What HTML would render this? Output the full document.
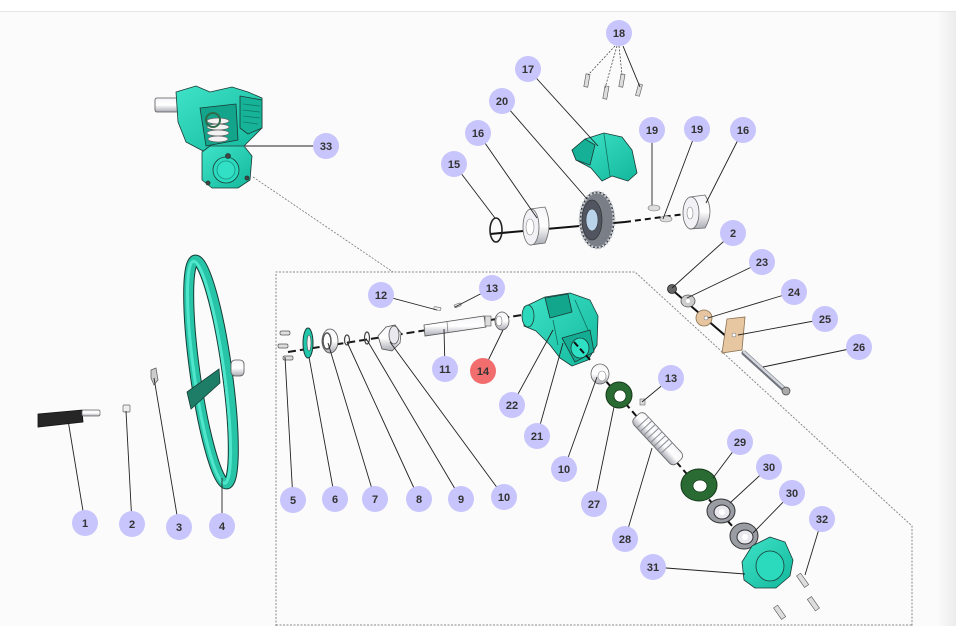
<!DOCTYPE html>
<html><head><meta charset="utf-8"><style>
html,body{margin:0;padding:0;width:956px;height:626px;overflow:hidden;background:#fbfbfb;}
svg{display:block}
text{font-family:"Liberation Sans",Arial,sans-serif;font-weight:bold;font-size:11px;fill:#333;}
</style></head><body>
<svg width="956" height="626" viewBox="0 0 956 626" xmlns="http://www.w3.org/2000/svg">
<defs>
<linearGradient id="rs" x1="0" x2="1"><stop offset="0" stop-color="#fafafa"/><stop offset="1" stop-color="#ececec"/></linearGradient>
<linearGradient id="cyl" x1="0" y1="0" x2="0" y2="1"><stop offset="0" stop-color="#f4f4f8"/><stop offset="0.5" stop-color="#ffffff"/><stop offset="1" stop-color="#a9aab4"/></linearGradient>
<linearGradient id="tl" x1="0" y1="0" x2="1" y2="1"><stop offset="0" stop-color="#3fe3c8"/><stop offset="1" stop-color="#13b89c"/></linearGradient>
</defs>
<rect x="0" y="0" width="956" height="11" fill="#ffffff"/>
<line x1="0" y1="11.5" x2="956" y2="11.5" stroke="#e6e6e6" stroke-width="1"/>
<rect x="938" y="12" width="18" height="614" fill="url(#rs)"/>

<!-- dashed region -->
<polyline points="276,626 276,272 635,272 912,526 912,626" fill="none" stroke="#888" stroke-width="1" stroke-dasharray="2 1.5"/>
<line x1="276" y1="625" x2="912" y2="625" stroke="#888" stroke-width="1" stroke-dasharray="2 1.5"/>
<line x1="253" y1="177" x2="393" y2="272" stroke="#777" stroke-width="0.8" stroke-dasharray="2 1.5"/>

<!-- ===== Part 33 housing ===== -->
<g stroke="#1c3a35" stroke-width="0.8" stroke-linejoin="round">
<rect x="155" y="98" width="24" height="14" rx="2" fill="url(#cyl)" stroke="#555"/>
<polygon points="176,92 196,86 210,92 232,87 248,92 262,98 262,128 252,138 240,150 205,152 186,142 178,122" fill="url(#tl)"/>
<polygon points="240,96 262,100 262,128 248,134 240,128" fill="#17b399"/>
<line x1="243" y1="104" x2="260" y2="106" stroke="#0d7a68"/>
<line x1="243" y1="110" x2="260" y2="112" stroke="#0d7a68"/>
<line x1="243" y1="116" x2="260" y2="118" stroke="#0d7a68"/>
<line x1="243" y1="122" x2="258" y2="124" stroke="#0d7a68"/>
<polygon points="200,108 236,104 238,140 206,146" fill="#12a58c"/>
<g fill="#f2f2f2" stroke="#666" stroke-width="0.7">
<ellipse cx="218" cy="121" rx="11" ry="3"/>
<ellipse cx="218" cy="127" rx="11" ry="3"/>
<ellipse cx="218" cy="133" rx="11" ry="3"/>
<ellipse cx="218" cy="139" rx="10" ry="3"/>
</g>
<circle cx="213" cy="120" r="7" fill="none" stroke="#2f6b4a" stroke-width="2"/>
<polygon points="202,152 210,146 244,146 252,156 250,180 238,188 212,188 202,180" fill="url(#tl)"/>
<circle cx="226" cy="170" r="13" fill="#2adbc0"/>
<circle cx="226" cy="170" r="9" fill="#32e0c5" stroke="#1a8f7b"/>
<circle cx="228" cy="156" r="2.5" fill="#444"/>
<circle cx="208" cy="183" r="2" fill="#444"/>
<circle cx="247" cy="178" r="2" fill="#444"/>
</g>

<!-- ===== Steering wheel 4 ===== -->
<g transform="rotate(-8 211 372)">
<ellipse cx="211" cy="372" rx="16" ry="113" fill="none" stroke="#173b34" stroke-width="11"/>
<ellipse cx="211" cy="372" rx="16" ry="113" fill="none" stroke="#27c4a8" stroke-width="9"/>
<ellipse cx="209" cy="372" rx="15" ry="112" fill="none" stroke="#4fe6cc" stroke-width="3"/>
</g>
<rect x="231" y="360" width="13" height="16" rx="4" fill="url(#cyl)" stroke="#555" stroke-width="0.8"/>
<polygon points="187,392 219,369 220,383 191,409" fill="#1d7d67" stroke="#163d35" stroke-width="0.8"/>

<!-- Part 1 handle -->
<polygon points="38,414 82,410 83,422 38,427" fill="#262626" stroke="#111" stroke-width="0.8"/>
<rect x="82" y="410" width="18" height="6" rx="1.5" fill="url(#cyl)" stroke="#666" stroke-width="0.7"/>
<!-- Part 2 -->
<rect x="123" y="405" width="7" height="7" rx="1" fill="#eee" stroke="#666" stroke-width="0.7"/>
<!-- Part 3 -->
<path d="M151,370 L156,368 L158,380 L154,385 L151,378 Z" fill="#ccc" stroke="#555" stroke-width="0.7"/>

<!-- ===== Left axis assembly ===== -->
<line x1="288" y1="352" x2="528" y2="314" stroke="#1a1a1a" stroke-width="2" stroke-dasharray="8 4"/>
<g stroke="#555" stroke-width="0.7">
<rect x="280" y="331" width="10" height="4" rx="1.5" fill="#ddd"/>
<rect x="278" y="344" width="10" height="4" rx="1.5" fill="#ddd"/>
<rect x="283" y="356" width="10" height="4" rx="1.5" fill="#ddd"/>
</g>
<ellipse cx="308" cy="343" rx="5" ry="15" fill="#1fc7ab" stroke="#1a3a35" stroke-width="1"/>
<ellipse cx="309" cy="343" rx="2" ry="8" fill="#f4f4f4" stroke="#444" stroke-width="0.6"/>
<ellipse cx="330" cy="341" rx="8" ry="12" fill="url(#cyl)" stroke="#555" stroke-width="0.8"/>
<ellipse cx="327" cy="341" rx="4" ry="8" fill="#fff" stroke="#555" stroke-width="1.5"/>
<ellipse cx="347" cy="340" rx="2.5" ry="5" fill="none" stroke="#444" stroke-width="1.2"/>
<ellipse cx="367" cy="338" rx="2.5" ry="6" fill="none" stroke="#444" stroke-width="1.2"/>
<path d="M378,336 L386,327 L395,325 L401,333 L400,343 L392,351 L382,349 Z" fill="url(#cyl)" stroke="#555" stroke-width="0.8"/>
<ellipse cx="394" cy="335" rx="5" ry="9" fill="#e8e8ee" stroke="#555" stroke-width="0.8"/>
<!-- shaft 11 -->
<polygon points="424,325 484,316 486,327 425,336" fill="url(#cyl)" stroke="#555" stroke-width="0.8"/>
<line x1="447" y1="322" x2="448" y2="333" stroke="#777" stroke-width="0.7"/>
<rect x="485" y="316" width="6" height="10" fill="#ddd" stroke="#555" stroke-width="0.6"/>
<!-- 12 13 pins -->
<rect x="434" y="307" width="7" height="3" rx="1" fill="#eee" stroke="#666" stroke-width="0.6" transform="rotate(10 437 308)"/>
<rect x="454" y="304" width="7" height="3" rx="1" fill="#eee" stroke="#666" stroke-width="0.6" transform="rotate(-20 457 305)"/>
<!-- 14 -->
<ellipse cx="502" cy="321" rx="7" ry="9" fill="url(#cyl)" stroke="#555" stroke-width="0.8"/>
<ellipse cx="499" cy="321" rx="3" ry="5" fill="#fff" stroke="#777" stroke-width="0.6"/>

<!-- ===== Center housing 21/22 ===== -->
<g stroke="#1c3a35" stroke-width="0.8" stroke-linejoin="round">
<polygon points="524,307 545,297 570,293 590,300 598,316 597,345 588,360 572,366 560,358 550,345 536,331 524,326" fill="url(#tl)"/>
<ellipse cx="528" cy="316" rx="6" ry="11" fill="#2bd8bc"/>
<polygon points="545,298 568,294 572,312 550,318" fill="#12a68d"/>
<polygon points="562,338 590,330 594,352 575,362" fill="#14ad93"/>
<ellipse cx="580" cy="348" rx="9" ry="10" fill="#2ee0c4"/>
<line x1="553" y1="320" x2="558" y2="345" stroke="#0f6e5f"/>
<line x1="575" y1="300" x2="588" y2="330" stroke="#0f6e5f"/>
</g>
<line x1="574" y1="342" x2="592" y2="362" stroke="#111" stroke-width="2" stroke-dasharray="6 3"/>

<!-- ===== Upper assembly ===== -->
<line x1="490" y1="234" x2="625" y2="222" stroke="#111" stroke-width="2"/>
<line x1="625" y1="222" x2="700" y2="212" stroke="#111" stroke-width="2" stroke-dasharray="6 4"/>
<ellipse cx="496" cy="230" rx="6" ry="12" fill="none" stroke="#222" stroke-width="1.6"/>
<path d="M530,209 L545,207 Q553,225 545,243 L530,245 Z" fill="url(#cyl)" stroke="#666" stroke-width="0.8"/>
<ellipse cx="531" cy="227" rx="8" ry="18" fill="#f2f2f6" stroke="#666" stroke-width="0.8"/>
<ellipse cx="530" cy="227" rx="4" ry="8" fill="#fff" stroke="#888" stroke-width="0.6"/>
<ellipse cx="597" cy="220" rx="17" ry="28" fill="#7a7e86" stroke="#333" stroke-width="1"/>
<ellipse cx="597" cy="220" rx="17" ry="28" fill="none" stroke="#c8ccd4" stroke-width="3" stroke-dasharray="2 2"/>
<ellipse cx="592" cy="220" rx="10" ry="20" fill="#505560" stroke="#333" stroke-width="0.7"/>
<ellipse cx="592" cy="220" rx="6" ry="11" fill="#b9d3ea" stroke="#333" stroke-width="0.6"/>
<g stroke="#1c3a35" stroke-width="0.8" stroke-linejoin="round">
<polygon points="572,150 585,139 604,133 622,137 632,150 637,173 628,181 612,176 602,181 591,168 576,160" fill="url(#tl)"/>
<polygon points="572,150 585,139 595,145 590,165 576,160" fill="#15b096"/>
<line x1="604" y1="134" x2="610" y2="176" stroke="#0f6e5f"/>
</g>
<ellipse cx="654" cy="208" rx="6" ry="3" fill="#ddd" stroke="#777" stroke-width="0.6"/>
<ellipse cx="666" cy="219" rx="6" ry="3" fill="#ddd" stroke="#777" stroke-width="0.6"/>
<path d="M690,197 L705,195 Q715,211 705,228 L690,229 Z" fill="url(#cyl)" stroke="#666" stroke-width="0.8"/>
<ellipse cx="691" cy="213" rx="8" ry="16" fill="#f2f2f6" stroke="#666" stroke-width="0.8"/>
<ellipse cx="690" cy="213" rx="3" ry="6" fill="#fff" stroke="#888" stroke-width="0.6"/>
<!-- screws 18 -->
<g fill="#ddd" stroke="#555" stroke-width="0.6">
<rect x="585" y="74" width="4" height="13" transform="rotate(10 587 80)"/>
<rect x="604" y="86" width="4" height="13" transform="rotate(10 606 92)"/>
<rect x="620" y="74" width="4" height="13" transform="rotate(10 622 80)"/>
<rect x="637" y="84" width="4" height="12" transform="rotate(15 639 90)"/>
</g>

<!-- ===== Right small chain ===== -->
<line x1="670" y1="288" x2="742" y2="350" stroke="#111" stroke-width="2"/>
<circle cx="672" cy="289" r="4.5" fill="#666" stroke="#222" stroke-width="0.8"/>
<ellipse cx="688" cy="301" rx="7" ry="6" fill="#ccc" stroke="#555" stroke-width="0.8"/>
<circle cx="688" cy="301" r="2" fill="#fff"/>
<ellipse cx="704" cy="318" rx="8" ry="8" fill="#e6c6a0" stroke="#8a7050" stroke-width="0.8"/>
<circle cx="706" cy="318" r="2" fill="#fff" stroke="#666" stroke-width="0.5"/>
<polygon points="727,319 745,317 742,350 722,353" fill="#e6c7a2" stroke="#8a7050" stroke-width="0.8"/>
<circle cx="734" cy="335" r="2" fill="#fff" stroke="#666" stroke-width="0.5"/>
<line x1="744" y1="353" x2="786" y2="391" stroke="#6e727a" stroke-width="5" stroke-linecap="round"/>
<line x1="744" y1="352" x2="786" y2="390" stroke="#d4d6de" stroke-width="2.5" stroke-linecap="round"/>
<circle cx="786" cy="391" r="4" fill="#aaa" stroke="#444" stroke-width="0.7"/>

<!-- ===== Lower chain ===== -->
<line x1="598" y1="372" x2="760" y2="558" stroke="#111" stroke-width="2" stroke-dasharray="9 4"/>
<ellipse cx="600" cy="374" rx="9" ry="10" fill="url(#cyl)" stroke="#666" stroke-width="0.8"/>
<ellipse cx="602" cy="376" rx="4" ry="5" fill="#fff" stroke="#888" stroke-width="0.6"/>
<ellipse cx="619" cy="395" rx="13" ry="13" fill="#2a6b34" stroke="#143818" stroke-width="1"/>
<ellipse cx="620" cy="396" rx="6" ry="6" fill="#fff" stroke="#143818" stroke-width="0.8"/>
<rect x="640" y="399" width="5" height="6" fill="#ddd" stroke="#666" stroke-width="0.6"/>
<g transform="rotate(47 657 438)">
<rect x="627" y="430" width="62" height="16" rx="5" fill="url(#cyl)" stroke="#666" stroke-width="0.8"/>
<g stroke="#8a8c94" stroke-width="1">
<line x1="636" y1="430" x2="636" y2="446"/><line x1="641" y1="430" x2="641" y2="446"/>
<line x1="646" y1="430" x2="646" y2="446"/><line x1="651" y1="430" x2="651" y2="446"/>
<line x1="656" y1="430" x2="656" y2="446"/><line x1="661" y1="430" x2="661" y2="446"/>
<line x1="666" y1="430" x2="666" y2="446"/><line x1="671" y1="430" x2="671" y2="446"/>
</g>
</g>
<ellipse cx="699" cy="485" rx="18" ry="16" fill="#2a6b34" stroke="#143818" stroke-width="1"/>
<ellipse cx="700" cy="486" rx="7" ry="6" fill="#fff" stroke="#143818" stroke-width="0.8"/>
<ellipse cx="721" cy="511" rx="14" ry="12" fill="#9a9ca4" stroke="#333" stroke-width="1"/>
<ellipse cx="722" cy="512" rx="8" ry="7" fill="#e8e8ee" stroke="#333" stroke-width="1"/>
<ellipse cx="722" cy="512" rx="3" ry="3" fill="#fff"/>
<ellipse cx="744" cy="536" rx="14" ry="13" fill="#9a9ca4" stroke="#333" stroke-width="1"/>
<ellipse cx="745" cy="537" rx="8" ry="7" fill="#e8e8ee" stroke="#333" stroke-width="1"/>
<ellipse cx="745" cy="537" rx="3" ry="3" fill="#fff"/>
<g stroke="#1c3a35" stroke-width="0.8" stroke-linejoin="round">
<polygon points="742,562 752,546 770,537 785,542 793,560 790,576 776,588 755,588 744,580" fill="url(#tl)"/>
<ellipse cx="770" cy="566" rx="14" ry="15" fill="#2bd9bd"/>
</g>
<g fill="#ddd" stroke="#555" stroke-width="0.6">
<rect x="800" y="573" width="5" height="14" transform="rotate(-35 803 580)"/>
<rect x="811" y="597" width="5" height="14" transform="rotate(-35 813 604)"/>
<rect x="777" y="605" width="5" height="14" transform="rotate(-35 780 612)"/>
</g>

<!-- ===== Leader lines ===== -->
<g stroke="#222" stroke-width="0.9" fill="none">
<line x1="85" y1="523" x2="68" y2="420"/>
<line x1="132" y1="524" x2="126" y2="411"/>
<line x1="179" y1="527" x2="154" y2="378"/>
<line x1="222" y1="526" x2="222" y2="478"/>
<line x1="293" y1="500" x2="285" y2="357"/>
<line x1="335" y1="499" x2="309" y2="357"/>
<line x1="375" y1="499" x2="328" y2="343"/>
<line x1="419" y1="499" x2="347" y2="342"/>
<line x1="461" y1="499" x2="367" y2="340"/>
<line x1="504" y1="497" x2="390" y2="342"/>
<line x1="445" y1="369" x2="444" y2="329"/>
<line x1="381" y1="295" x2="437" y2="310"/>
<line x1="492" y1="288" x2="455" y2="307"/>
<line x1="483" y1="371" x2="503" y2="330"/>
<line x1="512" y1="405" x2="553" y2="330"/>
<line x1="537" y1="436" x2="563" y2="343"/>
<line x1="564" y1="469" x2="597" y2="377"/>
<line x1="594" y1="504" x2="614" y2="407"/>
<line x1="625" y1="539" x2="652" y2="448"/>
<line x1="671" y1="378" x2="642" y2="402"/>
<line x1="740" y1="442" x2="713" y2="478"/>
<line x1="769" y1="467" x2="730" y2="503"/>
<line x1="792" y1="493" x2="753" y2="533"/>
<line x1="822" y1="519" x2="805" y2="575"/>
<line x1="653" y1="567" x2="745" y2="574"/>
<line x1="733" y1="233" x2="672" y2="288"/>
<line x1="762" y1="262" x2="687" y2="298"/>
<line x1="794" y1="292" x2="708" y2="318"/>
<line x1="825" y1="319" x2="738" y2="335"/>
<line x1="859" y1="347" x2="763" y2="367"/>
<line x1="326" y1="146" x2="245" y2="146"/>
<line x1="454" y1="164" x2="495" y2="218"/>
<line x1="478" y1="133" x2="537" y2="218"/>
<line x1="502" y1="101" x2="587" y2="199"/>
<line x1="528" y1="69" x2="598" y2="146"/>
<line x1="652" y1="130" x2="652" y2="205"/>
<line x1="697" y1="129" x2="663" y2="219"/>
<line x1="743" y1="130" x2="706" y2="203"/>
<line x1="623" y1="46" x2="640" y2="87"/>
</g>
<g stroke="#333" stroke-width="0.7" stroke-dasharray="2 1.5" fill="none">
<line x1="615" y1="46" x2="588" y2="75"/>
<line x1="617" y1="46" x2="605" y2="88"/>
<line x1="619" y1="46" x2="622" y2="75"/>
</g>

<!-- ===== Badges ===== -->
<g fill="#c7c5fb">
<circle cx="85" cy="523" r="13"/><circle cx="132" cy="524" r="13"/><circle cx="179" cy="527" r="13"/><circle cx="222" cy="526" r="13"/>
<circle cx="293" cy="500" r="13"/><circle cx="335" cy="499" r="13"/><circle cx="375" cy="499" r="13"/><circle cx="419" cy="499" r="13"/>
<circle cx="461" cy="499" r="13"/><circle cx="504" cy="497" r="13"/><circle cx="445" cy="369" r="13"/><circle cx="381" cy="295" r="13"/>
<circle cx="492" cy="288" r="13"/><circle cx="512" cy="405" r="13"/><circle cx="537" cy="436" r="13"/><circle cx="564" cy="469" r="13"/>
<circle cx="594" cy="504" r="13"/><circle cx="625" cy="539" r="13"/><circle cx="671" cy="378" r="13"/><circle cx="740" cy="442" r="13"/>
<circle cx="769" cy="467" r="13"/><circle cx="792" cy="493" r="13"/><circle cx="822" cy="519" r="13"/><circle cx="653" cy="567" r="13"/>
<circle cx="733" cy="233" r="13"/><circle cx="762" cy="262" r="13"/><circle cx="794" cy="292" r="13"/><circle cx="825" cy="319" r="13"/>
<circle cx="859" cy="347" r="13"/><circle cx="326" cy="146" r="13"/><circle cx="454" cy="164" r="13"/><circle cx="478" cy="133" r="13"/>
<circle cx="502" cy="101" r="13"/><circle cx="528" cy="69" r="13"/><circle cx="619" cy="33" r="13"/><circle cx="652" cy="130" r="13"/>
<circle cx="697" cy="129" r="13"/><circle cx="743" cy="130" r="13"/>
</g>
<circle cx="483" cy="371" r="13" fill="#f26d6d"/>
<g text-anchor="middle">
<text x="85" y="527">1</text><text x="132" y="528">2</text><text x="179" y="531">3</text><text x="222" y="530">4</text>
<text x="293" y="504">5</text><text x="335" y="503">6</text><text x="375" y="503">7</text><text x="419" y="503">8</text>
<text x="461" y="503">9</text><text x="504" y="501">10</text><text x="445" y="373">11</text><text x="381" y="299">12</text>
<text x="492" y="292">13</text><text x="483" y="375">14</text><text x="512" y="409">22</text><text x="537" y="440">21</text>
<text x="564" y="473">10</text><text x="594" y="508">27</text><text x="625" y="543">28</text><text x="671" y="382">13</text>
<text x="740" y="446">29</text><text x="769" y="471">30</text><text x="792" y="497">30</text><text x="822" y="523">32</text>
<text x="653" y="571">31</text><text x="733" y="237">2</text><text x="762" y="266">23</text><text x="794" y="296">24</text>
<text x="825" y="323">25</text><text x="859" y="351">26</text><text x="326" y="150">33</text><text x="454" y="168">15</text>
<text x="478" y="137">16</text><text x="502" y="105">20</text><text x="528" y="73">17</text><text x="619" y="37">18</text>
<text x="652" y="134">19</text><text x="697" y="133">19</text><text x="743" y="134">16</text>
</g>
</svg>
</body></html>
